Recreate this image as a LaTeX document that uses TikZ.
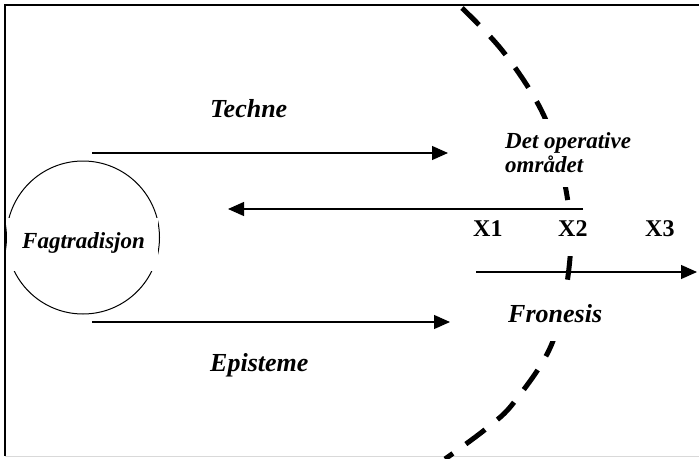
\documentclass[tikz,border=0pt]{standalone}
\usepackage{fontspec}
\setmainfont{Liberation Serif}
\usetikzlibrary{arrows.meta}
\tikzset{
  lbl/.style={font=\fontsize{26}{28}\selectfont\bfseries\itshape, anchor=base west, inner xsep=0pt, inner ysep=0pt},
  xlbl/.style={font=\fontsize{24}{28}\selectfont\bfseries, anchor=base west, inner xsep=0pt, inner ysep=0pt},
  smalllbl/.style={font=\fontsize{23}{26}\selectfont\bfseries\itshape, anchor=base west, inner xsep=0pt, inner ysep=0pt},
  cover/.style={fill=white, inner sep=0pt, anchor=north west},
  arr/.style={line width=1.2pt, -{Triangle[length=16pt,width=14pt]}},
  bound/.style={line width=5pt, dash pattern=on 24pt off 16pt},
}
\begin{document}
\begin{tikzpicture}[x=1pt,y=-1pt]
\useasboundingbox (0,0) rectangle (699,458);
% frame
\draw[line width=1.3pt] (705,5) -- (5,5) -- (5,456);
\draw[line width=1pt, black!15] (5,456.5) -- (705,456.5);
% Fagtradisjon circle
\node[circle, draw, line width=1pt, minimum size=153pt, inner sep=0pt] (trad) at (83,237.5) {};
% dashed boundary
\draw[bound] plot[smooth, tension=0.6] coordinates {(462,8) (505,54) (545,118) (566,190) (570,258) (553,341) (515,401) (487,428) (445,459)};
% white text boxes
\node[cover, minimum width=151pt, minimum height=53pt] (fagbg) at (7,218) {};
\node[cover, minimum width=129pt, minimum height=68pt] (detbg) at (503,119) {};
\node[cover, minimum width=34pt, minimum height=53pt] (x2bg) at (556,203) {};
\node[cover, minimum width=96pt, minimum height=51pt] (frobg) at (507,290) {};
% texts
\node[smalllbl] (fag) at (22,248) {Fagtradisjon};
\node[smalllbl] (det) at (505,148) {Det operative};
\node[smalllbl] (omr) at (505,172) {området};
\node[xlbl] (x1) at (473,236) {X1};
\node[xlbl] (x2) at (558,236) {X2};
\node[xlbl] (x3) at (645,236) {X3};
\node[lbl] (techne) at (210,117) {Techne};
\node[lbl] (epi) at (210,371) {Episteme};
\node[lbl] (fro) at (508,322) {Fronesis};
% arrow ends
\coordinate (t1) at (92,153);
\coordinate (t2) at (448,153);
\coordinate (e1) at (92,322);
\coordinate (e2) at (450,322);
\coordinate (l1) at (583,209);
\coordinate (l2) at (228,209);
\coordinate (r1) at (476,272);
\coordinate (r2) at (697,272);
\draw[arr] (t1) -- (t2);
\draw[arr] (e1) -- (e2);
\draw[arr] (l1) -- (l2);
\draw[arr] (r1) -- (r2);
\end{tikzpicture}
\end{document}
